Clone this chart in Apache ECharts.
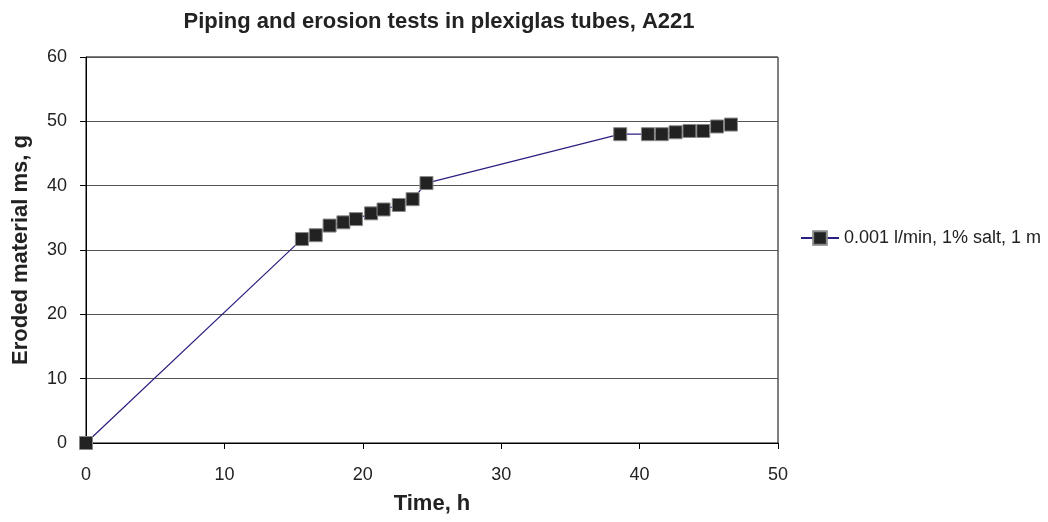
<!DOCTYPE html>
<html><head><meta charset="utf-8">
<script src="https://cdn.jsdelivr.net/npm/echarts@6/dist/echarts.min.js"></script>
<style>html,body{margin:0;padding:0;background:#fff}#c{width:1048px;height:522px}</style>
</head><body><div id="c"></div>
<script>
const title = 'Piping and erosion tests in plexiglas tubes, A221';
const seriesName = '0.001 l/min, 1% salt, 1 m';
const timeH = [0, 15.6, 16.6, 17.6, 18.6, 19.5, 20.6, 21.5, 22.6, 23.6, 24.6, 38.6, 40.6, 41.6, 42.6, 43.6, 44.6, 45.6, 46.6];
const erodedG = [0, 31.7, 32.3, 33.8, 34.3, 34.8, 35.7, 36.3, 37.0, 37.9, 40.4, 48.0, 48.0, 48.0, 48.3, 48.5, 48.5, 49.2, 49.5];

const chart = echarts.init(document.getElementById('c'), null, {renderer: 'canvas'});
const font = 'Liberation Sans, Arial, sans-serif';
chart.setOption({
  animation: false,
  title: {text: title, left: 434, top: 6, textAlign: 'center',
    textStyle: {fontFamily: font, fontWeight: 'bold', fontSize: 22, color: '#222'}},
  grid: {left: 86, right: 270, top: 57, bottom: 79, show: true, borderColor: '#000', borderWidth: 1},
  legend: {left: 795, top: 224, itemWidth: 38, itemHeight: 17, itemGap: 10,
    textStyle: {fontFamily: font, fontSize: 18, color: '#222'},
    data: [{name: seriesName}]},
  xAxis: {type: 'value', min: 0, max: 50, interval: 10,
    name: 'Time, h', nameLocation: 'middle', nameGap: 50,
    nameTextStyle: {fontFamily: font, fontWeight: 'bold', fontSize: 22, color: '#222'},
    axisLine: {onZero: false, lineStyle: {color: '#000', width: 1}},
    axisTick: {show: true, length: 6, lineStyle: {color: '#000'}},
    axisLabel: {fontFamily: font, fontSize: 18, color: '#222', margin: 23},
    splitLine: {show: false}},
  yAxis: {type: 'value', min: 0, max: 60, interval: 10,
    name: 'Eroded material ms, g', nameLocation: 'middle', nameGap: 54,
    nameTextStyle: {fontFamily: font, fontWeight: 'bold', fontSize: 22, color: '#222'},
    axisLine: {show: true, lineStyle: {color: '#000', width: 1}},
    axisTick: {show: true, length: 6, lineStyle: {color: '#000'}},
    axisLabel: {fontFamily: font, fontSize: 18, color: '#222', margin: 19},
    splitLine: {show: true, lineStyle: {color: '#555', width: 1}}},
  series: [{
    name: seriesName, type: 'line',
    data: timeH.map((t, i) => [t, erodedG[i]]),
    symbol: 'rect', symbolSize: 13,
    lineStyle: {color: '#2a2080', width: 1.2},
    itemStyle: {color: '#222', borderColor: '#888', borderWidth: 1},
    emphasis: {disabled: true}
  }]
});
</script></body></html>
